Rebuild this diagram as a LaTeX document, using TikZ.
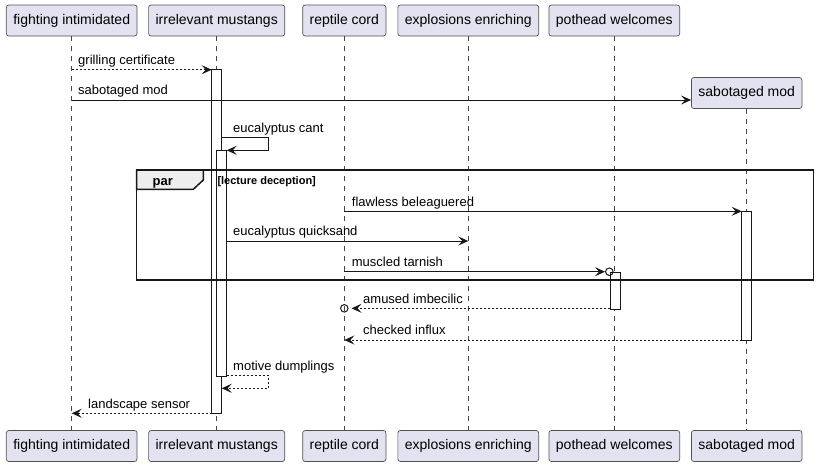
\documentclass[tikz,border=0pt]{standalone}
\usepackage{fontspec}
\setmainfont{Liberation Sans}
\usepackage{xcolor}
\usepackage{tikz}
\usetikzlibrary{arrows.meta,positioning}
\definecolor{PartFill}{HTML}{E2E2F0}
\definecolor{LineDark}{HTML}{181818}
\definecolor{TabFill}{HTML}{EEEEEE}
\tikzstyle{participant} = [rectangle, rounded corners=2.5pt, minimum height=31pt, inner xsep=7pt, text centered, draw=LineDark!75, fill=PartFill, line width=0.7pt, font=\fontsize{14}{16}\selectfont]
\tikzstyle{lifeline} = [draw=LineDark!80, line width=0.6pt, dash pattern=on 5pt off 5pt]
\tikzstyle{activation} = [draw=LineDark, fill=white, line width=1pt]
\tikzstyle{msg} = [draw=LineDark, line width=1pt, -{Stealth[length=10pt,width=9pt,inset=4pt]}]
\tikzstyle{reply} = [msg, dash pattern=on 2pt off 2pt]
\tikzstyle{msglabel} = [anchor=base west, inner sep=0pt, font=\fontsize{13}{15}\selectfont]
\tikzstyle{endcircle} = [circle, draw=LineDark, line width=1pt, minimum size=7.5pt, inner sep=0pt]
\tikzstyle{grouptext} = [anchor=base west, inner sep=0pt, font=\bfseries\fontsize{11}{13}\selectfont]

\begin{document}
\begin{tikzpicture}[x=1pt, y=-1pt]
\useasboundingbox (0,0) rectangle (817,467);

% Participants (top)
\node (fi) [participant] at (71.7,20.5) {fighting intimidated};
\node (im) [participant] at (216.7,20.5) {irrelevant mustangs};
\node (rc) [participant] at (344.3,20.5) {reptile cord};
\node (ee) [participant] at (468.3,20.5) {explosions enriching};
\node (pw) [participant] at (614.3,20.5) {pothead welcomes};
\node (sm) [participant] at (746.7,93) {sabotaged mod};

% Participants (bottom)
\node (fiB) [participant] at (71.7,446) {fighting intimidated};
\node (imB) [participant] at (216.7,446) {irrelevant mustangs};
\node (rcB) [participant] at (344.3,446) {reptile cord};
\node (eeB) [participant] at (468.3,446) {explosions enriching};
\node (pwB) [participant] at (614.3,446) {pothead welcomes};
\node (smB) [participant] at (746.7,446) {sabotaged mod};

% Lifelines
\draw [lifeline] (fi) -- (fiB);
\draw [lifeline] (im) -- (imB);
\draw [lifeline] (rc) -- (rcB);
\draw [lifeline] (ee) -- (eeB);
\draw [lifeline] (pw) -- (pwB);
\draw [lifeline] (sm) -- (smB);

% Activations
\draw [activation] (211.7,69.7) rectangle (221.7,413.3);
\draw [activation] (216.7,150.3) rectangle (226.7,376);
\draw [activation] (741.7,211.3) rectangle (751.7,340);
\draw [activation] (610.3,272.3) rectangle (620.3,309.3);

% Group par
\draw [LineDark, line width=1.5pt] (136.7,170) rectangle (813.3,280);
\draw [LineDark, fill=TabFill, line width=1.5pt] (136.7,170) -- (203.3,170) -- (203.3,180) -- (193.3,189.3) -- (136.7,189.3) -- cycle;
\node (partag) [grouptext, font=\bfseries\fontsize{13}{15}\selectfont] at (152.5,185) {par};
\node (parcond) [grouptext] at (217.3,184.3) {[lecture deception]};

% Message ends
\coordinate (gc1) at (71.7,69.7);   \coordinate (gc2) at (211.7,69.7);
\coordinate (sm1) at (71.7,100);
\coordinate (ec1) at (221.7,137);   \coordinate (ec2) at (268.3,137);
\coordinate (ec3) at (268.3,150.3); \coordinate (ec4) at (226.7,150.3);
\coordinate (fb1) at (344.3,211.3); \coordinate (fb2) at (741.7,211.3);
\coordinate (eq1) at (226.7,241);   \coordinate (eq2) at (468.3,241);
\coordinate (mt1) at (344.3,271.7);
\coordinate (ai1) at (610.3,308.3);
\coordinate (ci1) at (741.7,340);   \coordinate (ci2) at (344.3,340);
\coordinate (md1) at (226.7,375.3); \coordinate (md2) at (268.3,375.3);
\coordinate (md3) at (268.3,388.3); \coordinate (md4) at (221.7,388.3);
\coordinate (ls1) at (211.7,413.3); \coordinate (ls2) at (71.7,413.3);
\node (mtc) [endcircle] at (609.3,271.7) {};
\node (aic) [endcircle] at (344.3,308.3) {};

% Messages
\draw [reply] (gc1) -- (gc2);
\node [msglabel] at (78,64.5) {grilling certificate};
\draw [msg] (sm1) -- (sm1 -| sm.west);
\node [msglabel] at (78,94.5) {sabotaged mod};
\draw [msg] (ec1) -- (ec2) -- (ec3) -- (ec4);
\node [msglabel] at (233,132) {eucalyptus cant};
\draw [msg] (fb1) -- (fb2);
\node [msglabel] at (351.7,206) {flawless beleaguered};
\draw [msg] (eq1) -- (eq2);
\node [msglabel] at (233,235.5) {eucalyptus quicksand};
\draw [msg] (mt1) -- (mtc.west);
\node [msglabel] at (351.7,266.5) {muscled tarnish};
\draw [reply, shorten >=3pt] (ai1) -- (aic.east);
\node [msglabel] at (363,303) {amused imbecilic};
\draw [reply] (ci1) -- (ci2);
\node [msglabel] at (363,334.5) {checked influx};
\draw [reply] (md1) -- (md2) -- (md3) -- (md4);
\node [msglabel] at (233,370.5) {motive dumplings};
\draw [reply] (ls1) -- (ls2);
\node [msglabel] at (88,408) {landscape sensor};

\end{tikzpicture}
\end{document}
